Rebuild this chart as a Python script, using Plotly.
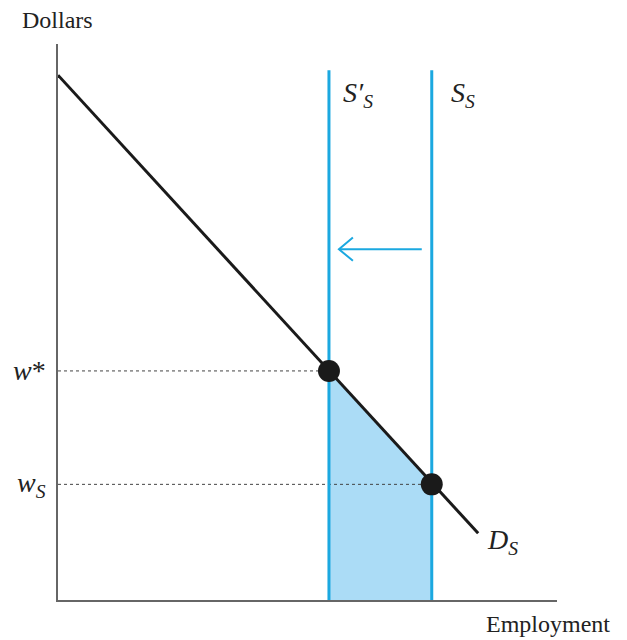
import plotly.graph_objects as go

# demand curve D_S (employment, dollars)
demand_x = [0, 54.3, 74.9, 84.2]
demand_y = [94.4, 41.2, 20.8, 12.0]

# supply curves: S'_S (shifted) and S_S
supply_x = [54.3, 74.9]
supply_top = 95.3

# equilibrium wages
wage_labels = ["<i>w</i>*", "<i>w</i><sub><i>S</i></sub>"]
wages = [41.2, 20.8]

# shift arrow (from S_S towards S'_S)
arrow_y = 63.1
arrow_from = 72.9
arrow_to = 56.3

blue = "#1ba8e0"
fill_blue = "#abdcf6"
axis_col = "#666666"
serif = "Liberation Serif, Times New Roman, serif"

fig = go.Figure()

# shaded area between the two supply curves under demand
fig.add_trace(go.Scatter(
    x=[supply_x[0], supply_x[0], supply_x[1], supply_x[1]],
    y=[0, wages[0], wages[1], 0],
    fill="toself", fillcolor=fill_blue, line=dict(width=0),
    mode="lines", hoverinfo="skip"))

# dotted guides from y axis
for w, sx in zip(wages, supply_x):
    fig.add_trace(go.Scatter(x=[0, sx], y=[w, w], mode="lines",
                             line=dict(color="#444444", width=1, dash="dot")))

# supply lines
for sx in supply_x:
    fig.add_trace(go.Scatter(x=[sx, sx], y=[0, supply_top], mode="lines",
                             line=dict(color=blue, width=3)))

# demand
fig.add_trace(go.Scatter(x=[demand_x[0], demand_x[-1]], y=[demand_y[0], demand_y[-1]],
                         mode="lines", line=dict(color="#1a1a1a", width=3)))

# equilibrium points
fig.add_trace(go.Scatter(x=supply_x, y=wages, mode="markers",
                         marker=dict(color="#1a1a1a", size=22)))

# arrow shaft and open head
fig.add_trace(go.Scatter(x=[arrow_from, arrow_to], y=[arrow_y, arrow_y], mode="lines",
                         line=dict(color=blue, width=2)))
fig.add_trace(go.Scatter(x=[arrow_to + 2.8, arrow_to, arrow_to + 2.8],
                         y=[arrow_y + 2.1, arrow_y, arrow_y - 2.1], mode="lines",
                         line=dict(color=blue, width=2)))

txt = dict(family=serif, size=24, color="#222222")
math = dict(family=serif, size=28, color="#222222")
ann = [
    dict(x=0, y=1, xref="paper", yref="paper", text="Dollars", xanchor="center",
         yanchor="middle", yshift=24, xshift=-1, font=txt),
    dict(x=1, y=0, xref="paper", yref="paper", text="Employment", xanchor="center",
         yanchor="middle", yshift=-24, xshift=-9, font=txt),
    dict(x=supply_x[0], y=91, text="<i>S′</i><sub><i>S</i></sub>", xanchor="left", xshift=12, font=math),
    dict(x=supply_x[1], y=91, text="<i>S</i><sub><i>S</i></sub>", xanchor="left", xshift=17, font=math),
    dict(x=demand_x[-1], y=demand_y[-1], text="<i>D</i><sub><i>S</i></sub>", xanchor="left",
         yanchor="middle", xshift=7, yshift=-8, font=math),
]
for lab, w in zip(wage_labels, wages):
    ann.append(dict(x=0, y=w, text=lab, xanchor="right", xshift=-10, font=math))
for a in ann:
    a["showarrow"] = False
fig.update_layout(annotations=ann)

fig.update_xaxes(range=[0, 100], showline=True, linecolor=axis_col, linewidth=2,
                 showgrid=False, zeroline=False, showticklabels=False, ticks="")
fig.update_yaxes(range=[0, 100], showline=True, linecolor=axis_col, linewidth=2,
                 showgrid=False, zeroline=False, showticklabels=False, ticks="")
# page body has an 8px margin, so the figure is shifted and trimmed accordingly
fig.update_layout(width=619, height=632, showlegend=False,
                  margin=dict(l=50, r=70, t=36, b=40),
                  plot_bgcolor="white", paper_bgcolor="white")

fig.write_html("out.html")
